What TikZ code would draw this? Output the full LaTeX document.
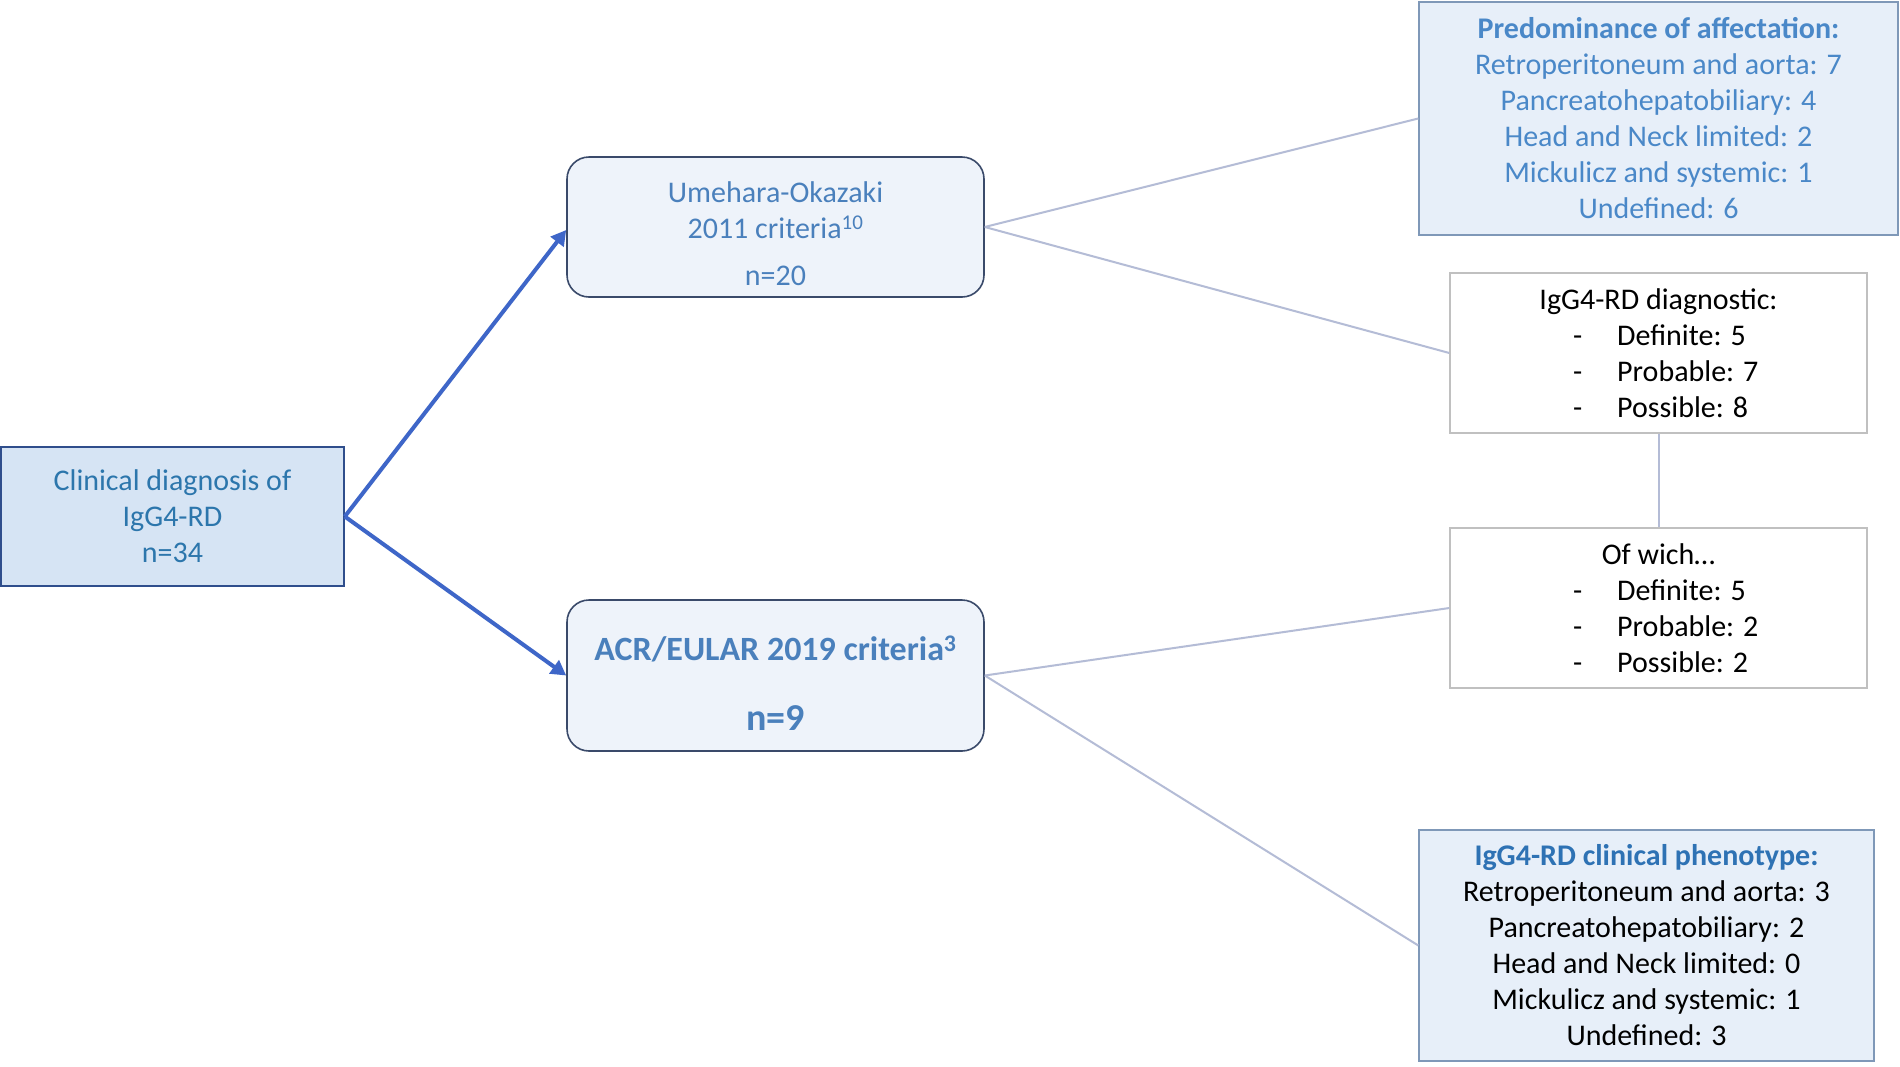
\documentclass[tikz,border=0pt]{standalone}
\usepackage{fontspec}
\setmainfont{Carlito}
\usetikzlibrary{arrows.meta}
\definecolor{clinfill}{HTML}{D6E4F4}
\definecolor{clinline}{HTML}{2F4E8C}
\definecolor{clintext}{HTML}{2C76AC}
\definecolor{critfill}{HTML}{EEF3FA}
\definecolor{critline}{HTML}{3A4A6A}
\definecolor{crittext}{HTML}{4A80BC}
\definecolor{infofill}{HTML}{E7EFF9}
\definecolor{infoline}{HTML}{7F98B8}
\definecolor{infotext}{HTML}{4A88C8}
\definecolor{phentitle}{HTML}{2E72B4}
\definecolor{greyline}{HTML}{C0C0C0}
\definecolor{arrowblue}{HTML}{3E66C8}
\definecolor{thinline}{HTML}{B4BCD6}
\newcommand{\dashitem}[1]{\makebox[171pt][l]{-\hspace{35pt}#1}}
\begin{document}
\begin{tikzpicture}[x=1pt,y=-1pt,
  every node/.style={font=\fontsize{30}{36}\selectfont, align=center, inner sep=0pt},
  clinbox/.style={draw=clinline, line width=1.6pt, fill=clinfill, text=clintext},
  critbox/.style={draw=critline, line width=1.6pt, fill=critfill, rounded corners=22pt, text=crittext},
  infobox/.style={draw=infoline, line width=1.4pt, fill=infofill},
  greybox/.style={draw=greyline, line width=1.4pt, fill=white, text=black},
  arr/.style={draw=arrowblue, line width=4pt, -{Triangle[length=15pt,width=16pt]}},
  thin/.style={draw=thinline, line width=2pt}]
\useasboundingbox (0,0) rectangle (1900,1066);
\fill[white] (0,0) rectangle (1900,1066);

\node[clinbox, minimum width=343pt, minimum height=139pt] (clin) at (172.5,516.5)
  {Clinical diagnosis of\\IgG4-RD\\n=34};

\node[critbox, minimum width=417pt, minimum height=140pt] (ume) at (775.5,227)
  {\rule{0pt}{34pt}Umehara-Okazaki\\2011 criteria\textsuperscript{10}\\[11pt]n=20};

\node[critbox, minimum width=417pt, minimum height=151pt] (acr) at (775.5,675.5)
  {\rule{0pt}{40pt}{\fontsize{34}{40}\selectfont\bfseries ACR/EULAR 2019 criteria\textsuperscript{3}}\\[34pt]{\fontsize{38}{40}\selectfont\bfseries n=9}};

\node[infobox, text=infotext, minimum width=479pt, minimum height=233pt] (pred) at (1658.5,118.5)
  {\textbf{Predominance of affectation:}\\Retroperitoneum and aorta: 7\\Pancreatohepatobiliary: 4\\Head and Neck limited: 2\\Mickulicz and systemic: 1\\Undefined: 6};

\node[greybox, minimum width=417pt, minimum height=160pt] (diag) at (1658.5,353)
  {IgG4-RD diagnostic:\\\dashitem{Definite: 5}\\\dashitem{Probable: 7}\\\dashitem{Possible: 8}};

\node[greybox, minimum width=417pt, minimum height=160pt] (ofw) at (1658.5,608)
  {Of wich…\\\dashitem{Definite: 5}\\\dashitem{Probable: 2}\\\dashitem{Possible: 2}};

\node[infobox, text=black, minimum width=455pt, minimum height=231pt] (phen) at (1646.5,945.5)
  {\textcolor{phentitle}{\bfseries IgG4-RD clinical phenotype:}\\Retroperitoneum and aorta: 3\\Pancreatohepatobiliary: 2\\Head and Neck limited: 0\\Mickulicz and systemic: 1\\Undefined: 3};

\draw[arr] (clin.east) -- ([yshift=-3pt]ume.west);
\draw[arr] (clin.east) -- (acr.west);

\draw[thin] (ume.east) -- (pred.west);
\draw[thin] (ume.east) -- (diag.west);
\draw[thin] (acr.east) -- (ofw.west);
\draw[thin] (acr.east) -- (phen.west);
\draw[thin] (diag.south) -- (ofw.north);
\end{tikzpicture}
\end{document}
